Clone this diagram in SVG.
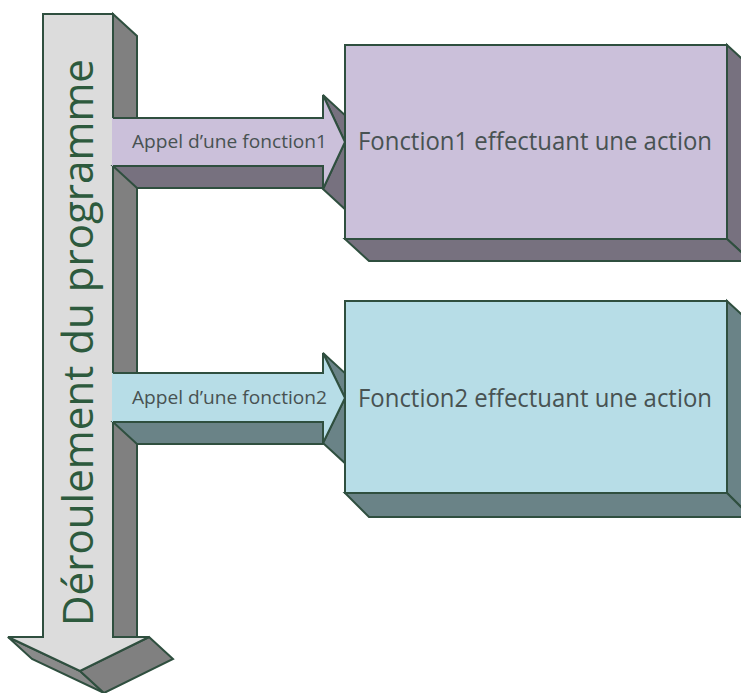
<svg xmlns="http://www.w3.org/2000/svg" width="741" height="693" viewBox="0 0 741 693">
<style>
.edge{stroke:#2f4f3f;stroke-width:2;stroke-linejoin:miter}
.gside{fill:#808080}
.gside2{fill:#8a8a8a}
.gfront{fill:#dcdcdc}
.pfront{fill:#cbc0da}
.pside{fill:#77717f}
.bfront{fill:#b7dde7}
.bside{fill:#6a8387}
.vt{font-family:"Open Sans","DejaVu Sans",sans-serif;font-size:42px;fill:#2d5a3d}
.bt{font-family:"Open Sans","DejaVu Sans",sans-serif;font-size:25px;fill:#485252}
.at{font-family:"Open Sans","DejaVu Sans",sans-serif;font-size:18px;fill:#485252}
</style>
<rect width="741" height="693" fill="#ffffff"/>
<g id="flow">
<polygon class="gside edge" points="113,14 137,36 137,637 113,637"/>
<polygon class="gside2 edge" points="8,637 80,671 104,693 32,659"/>
<polygon class="gside edge" points="80,671 149,637 173,659 104,693"/>
<polygon class="gfront edge" points="43,14 113,14 113,637 149,637 80,671 8,637 43,637"/>
<text class="vt" transform="translate(93,626) rotate(-90)" textLength="567" lengthAdjust="spacingAndGlyphs">Déroulement du programme</text>
</g>
<g id="connectors">
<g id="call1">
<polygon class="pside edge" points="113,166 323,166 347,188 137,188"/>
<polygon class="pside edge" points="323,95 347,117 369,164 345,142"/>
<polygon class="pside edge" points="345,142 323,189 347,211 369,164"/>
<polygon class="pfront" points="112,118 323,118 323,95 345,142 323,189 323,166 112,166"/>
<polyline class="edge" fill="none" points="113,118 323,118 323,95 345,142 323,189 323,166 113,166"/>
<text class="at" x="132" y="148" textLength="195" lengthAdjust="spacingAndGlyphs">Appel d’une fonction1</text>
</g>
<g id="call2">
<polygon class="bside edge" points="113,422 323,422 347,444 137,444"/>
<polygon class="bside edge" points="323,353 347,375 369,420 345,398"/>
<polygon class="bside edge" points="345,398 323,443 347,465 369,420"/>
<polygon class="bfront" points="112,373 323,373 323,353 345,398 323,443 323,422 112,422"/>
<polyline class="edge" fill="none" points="113,373 323,373 323,353 345,398 323,443 323,422 113,422"/>
<text class="at" x="132" y="404" textLength="195" lengthAdjust="spacingAndGlyphs">Appel d’une fonction2</text>
</g>
</g>
<g id="fonction1">
<polygon class="pside edge" points="727,45 751,67 751,261 727,239"/>
<polygon class="pside edge" points="345,239 727,239 751,261 369,261"/>
<rect class="pfront edge" x="345" y="45" width="382" height="194"/>
<text class="bt" x="358" y="150" textLength="354" lengthAdjust="spacingAndGlyphs">Fonction1 effectuant une action</text>
</g>
<g id="fonction2">
<polygon class="bside edge" points="727,301 751,323 751,517 727,493"/>
<polygon class="bside edge" points="345,493 727,493 751,517 369,517"/>
<rect class="bfront edge" x="345" y="301" width="382" height="192"/>
<text class="bt" x="358" y="407" textLength="354" lengthAdjust="spacingAndGlyphs">Fonction2 effectuant une action</text>
</g>
</svg>
